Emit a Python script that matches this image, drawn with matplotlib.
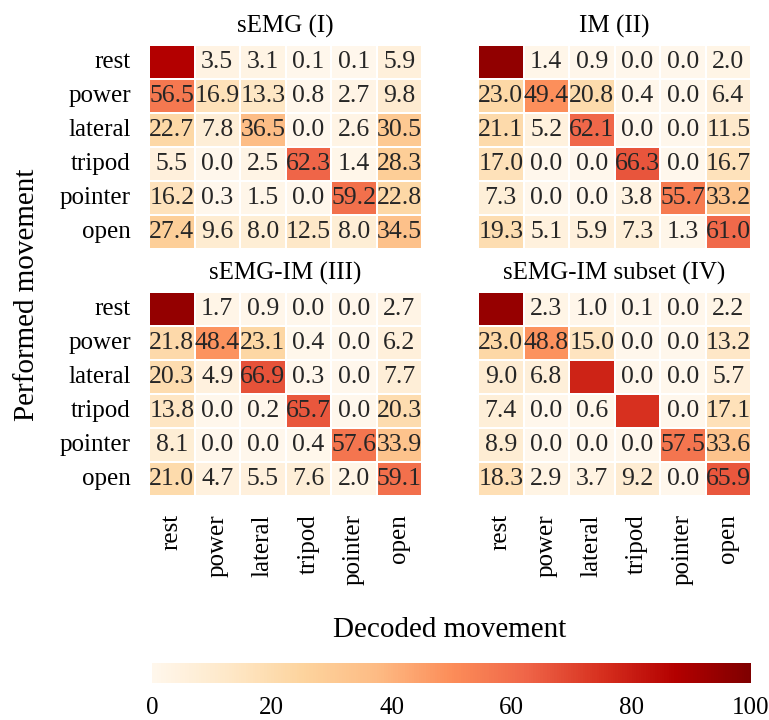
import numpy as np
import matplotlib
matplotlib.use('Agg')
import matplotlib.pyplot as plt
import seaborn as sns

plt.rcParams['font.family'] = ['Liberation Serif', 'DejaVu Serif']

moves = ['rest', 'power', 'lateral', 'tripod', 'pointer', 'open']

# confusion matrices (% of trials), rows = performed, cols = decoded
semg = [[87.3, 3.5, 3.1, 0.1, 0.1, 5.9],
        [56.5, 16.9, 13.3, 0.8, 2.7, 9.8],
        [22.7, 7.8, 36.5, 0.0, 2.6, 30.5],
        [5.5, 0.0, 2.5, 62.3, 1.4, 28.3],
        [16.2, 0.3, 1.5, 0.0, 59.2, 22.8],
        [27.4, 9.6, 8.0, 12.5, 8.0, 34.5]]
im = [[95.7, 1.4, 0.9, 0.0, 0.0, 2.0],
      [23.0, 49.4, 20.8, 0.4, 0.0, 6.4],
      [21.1, 5.2, 62.1, 0.0, 0.0, 11.5],
      [17.0, 0.0, 0.0, 66.3, 0.0, 16.7],
      [7.3, 0.0, 0.0, 3.8, 55.7, 33.2],
      [19.3, 5.1, 5.9, 7.3, 1.3, 61.0]]
semg_im = [[94.7, 1.7, 0.9, 0.0, 0.0, 2.7],
           [21.8, 48.4, 23.1, 0.4, 0.0, 6.2],
           [20.3, 4.9, 66.9, 0.3, 0.0, 7.7],
           [13.8, 0.0, 0.2, 65.7, 0.0, 20.3],
           [8.1, 0.0, 0.0, 0.4, 57.6, 33.9],
           [21.0, 4.7, 5.5, 7.6, 2.0, 59.1]]
semg_im_sub = [[94.4, 2.3, 1.0, 0.1, 0.0, 2.2],
               [23.0, 48.8, 15.0, 0.0, 0.0, 13.2],
               [9.0, 6.8, 78.5, 0.0, 0.0, 5.7],
               [7.4, 0.0, 0.6, 74.9, 0.0, 17.1],
               [8.9, 0.0, 0.0, 0.0, 57.5, 33.6],
               [18.3, 2.9, 3.7, 9.2, 0.0, 65.9]]

titles = ['sEMG (I)', 'IM (II)', 'sEMG-IM (III)', 'sEMG-IM subset (IV)']
mats = [semg, im, semg_im, semg_im_sub]

fig = plt.figure(figsize=(7.69, 7.2), dpi=100)
W, H = 769, 720
lefts = [149, 478]
tops = [45, 292]
cw, ch = 273, 204

for k, (mat, title) in enumerate(zip(mats, titles)):
    r, c = divmod(k, 2)
    ax = fig.add_axes([lefts[c] / W, 1 - (tops[r] + ch) / H, cw / W, ch / H])
    vals = np.array(mat)
    # values above 70 are not annotated in the original
    labels = np.where(vals > 70, '', np.char.mod('%.1f', vals))
    sns.heatmap(vals, ax=ax, cmap='OrRd', vmin=0, vmax=100, cbar=False,
                annot=labels, fmt='', linewidths=1.3, linecolor='white',
                annot_kws={'fontsize': 18.5, 'color': '#262626'},
                xticklabels=moves, yticklabels=moves)
    ax.set_title(title, fontsize=18, pad=9)
    ax.tick_params(length=0, labelsize=18, pad=13)
    if c == 1:
        ax.set_yticklabels([])
    else:
        ax.set_yticklabels(moves, rotation=0)
    if r == 0:
        ax.set_xticklabels([])
    else:
        ax.set_xticklabels(moves, rotation=90)

fig.text(0.035, 0.59, 'Performed movement', rotation=90, fontsize=21,
         ha='center', va='center')
fig.text(450 / W, 1 - 630 / H, 'Decoded movement', fontsize=21,
         ha='center', va='center')

cax = fig.add_axes([152 / W, 1 - 683 / H, 599 / W, 20 / H])
sm = plt.cm.ScalarMappable(cmap='OrRd', norm=plt.Normalize(0, 100))
cb = fig.colorbar(sm, cax=cax, orientation='horizontal')
cb.outline.set_visible(False)
cb.set_ticks([0, 20, 40, 60, 80, 100])
cax.tick_params(length=0, labelsize=18, pad=10)

fig.savefig('out.png', dpi=100)
